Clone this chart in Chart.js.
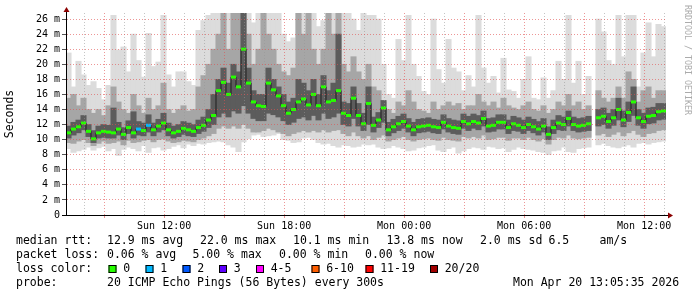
<!DOCTYPE html>
<html lang="en">
  <head>
    <meta charset="UTF-8" />
    <title>Smokeping latency</title>
    <script src="https://cdn.jsdelivr.net/npm/chart.js@4"></script>
    <style>
      html, body { margin: 0; padding: 0; background: #fff; }
      canvas { display: block; }
    </style>
  </head>
  <body>
    <canvas id="smoke" width="697" height="297"></canvas>
    <script>
      // 30 hour window, Sun 07:05:35 -> Mon 13:05:35, one value every 15 min
      const startHour = 7 + 5 / 60 + 35 / 3600;
      const stepHours = 0.25;

      // median rtt (ms) per step
      const median = [
        10.9, 11.4, 11.7, 12.2, 11.1, 10.1, 10.9, 11.1, 11.0, 10.9,
        11.4, 10.7, 11.6, 10.9, 11.4, 11.2, 11.9, 11.3, 11.8, 12.2,
        11.3, 10.9, 11.1, 11.5, 11.3, 11.1, 11.6, 11.9, 12.6, 13.2,
        16.5, 17.6, 16.0, 18.3, 17.0, 22.0, 17.5, 15.0, 14.5, 14.4,
        17.5, 16.6, 15.8, 14.5, 13.5, 14.0, 15.0, 15.4, 14.6, 16.0,
        14.5, 17.0, 15.0, 15.2, 16.5, 13.5, 13.2, 15.5, 13.2, 12.1,
        14.8, 11.9, 12.6, 14.2, 11.3, 11.7, 12.1, 12.4, 11.8, 11.3,
        11.7, 11.8, 11.9, 11.7, 11.6, 12.3, 11.8, 11.6, 11.5, 12.4,
        12.1, 12.4, 12.2, 12.8, 11.8, 11.9, 12.3, 12.3, 11.6, 12.1,
        11.9, 11.6, 12.0, 11.7, 11.4, 11.8, 10.7, 11.6, 12.2, 12.0,
        12.8, 12.0, 11.8, 11.9, 12.1, null, 12.9, 13.1, 12.4, 12.9,
        14.0, 12.6, 13.6, 15.0, 12.9, 12.4, 13.1, 13.2, 13.7, 13.8,
      ];
      // lost pings (of 20) per step
      const lossPings = [
        0, 0, 0, 0, 0, 0, 0, 0, 0, 0, 0, 0, 0, 0, 1, 0, 1, 0, 0, 0,
        0, 0, 0, 0, 0, 0, 0, 0, 0, 0, 0, 0, 0, 0, 0, 0, 0, 0, 0, 0,
        0, 0, 0, 0, 0, 0, 0, 0, 0, 0, 0, 0, 0, 0, 0, 0, 0, 0, 0, 0,
        0, 0, 0, 0, 0, 0, 0, 0, 0, 0, 0, 0, 0, 0, 0, 0, 0, 0, 0, 0,
        0, 0, 0, 0, 0, 0, 0, 0, 0, 0, 0, 0, 0, 0, 0, 0, 0, 0, 0, 0,
        0, 0, 0, 0, 0, 0, 0, 0, 0, 0, 0, 0, 0, 0, 0, 0, 0, 0, 0, 0,
      ];
      // smoke: outer (light), middle and inner (dark) ranges, ms
      const smokeHi1 = [
        21.5, 17.0, 20.4, 18.6, 17.2, 17.7, 16.8, 15.3, 17.2, 26.5,
        21.9, 22.3, 19.0, 24.0, 20.5, 18.3, 24.1, 19.7, 20.3, 26.5,
        18.6, 17.0, 19.0, 19.0, 17.7, 17.2, 24.5, 25.8, 26.5, 26.8,
        26.8, 26.8, 26.8, 26.8, 26.8, 26.8, 26.8, 25.5, 26.8, 26.8,
        26.8, 26.8, 26.8, 24.0, 23.0, 23.5, 26.8, 26.8, 26.8, 26.8,
        25.0, 25.8, 26.8, 26.8, 26.8, 26.8, 26.8, 26.0, 24.5, 26.8,
        26.5, 26.5, 26.0, 20.0, 16.0, 15.5, 23.3, 20.5, 26.5, 20.0,
        18.4, 16.4, 16.0, 26.0, 19.3, 17.5, 23.3, 19.5, 19.0, 16.5,
        18.5, 17.0, 26.5, 19.5, 17.5, 18.4, 16.2, 20.8, 16.6, 16.4,
        15.5, 18.0, 21.0, 15.5, 15.3, 18.2, 15.5, 16.5, 20.4, 18.0,
        26.5, 17.5, 20.4, 16.0, 18.4, null, 26.0, 24.3, 20.5, 20.0,
        26.5, 21.0, 26.5, 26.5, 17.0, 21.5, 25.5, 21.0, 25.3, 25.0,
      ];
      const smokeHi2 = [
        15.5, 16.0, 14.5, 15.5, 14.0, 13.5, 14.0, 13.2, 14.5, 17.0,
        15.0, 14.0, 13.5, 16.0, 14.5, 13.5, 15.5, 14.0, 14.5, 17.5,
        14.0, 13.5, 14.0, 14.5, 13.8, 14.0, 17.0, 18.5, 20.0, 22.0,
        24.0, 26.8, 22.0, 26.8, 26.8, 26.8, 24.0, 20.0, 22.0, 26.8,
        24.0, 22.0, 20.0, 19.0, 18.5, 19.5, 26.8, 24.0, 26.8, 22.0,
        20.0, 22.0, 26.8, 24.0, 26.8, 20.0, 19.0, 21.0, 19.0, 18.0,
        20.0, 17.0, 16.5, 15.0, 14.0, 13.5, 15.0, 14.5, 16.5, 15.0,
        14.0, 13.8, 13.5, 15.0, 14.0, 14.5, 15.0, 14.5, 14.8, 14.0,
        14.5, 14.5, 16.0, 15.0, 14.5, 15.0, 14.2, 15.5, 14.5, 14.2,
        14.0, 14.5, 15.0, 14.0, 13.8, 14.5, 13.5, 14.0, 15.0, 14.5,
        16.0, 14.5, 15.0, 14.0, 14.5, null, 16.5, 15.5, 15.0, 15.5,
        17.0, 15.5, 19.0, 18.0, 15.0, 16.5, 17.0, 15.5, 16.5, 16.5,
      ];
      const smokeHi3 = [
        11.8, 12.3, 12.6, 13.2, 12.0, 11.2, 11.8, 12.0, 11.9, 14.2,
        12.3, 11.6, 12.5, 13.7, 12.4, 12.2, 13.3, 12.2, 12.7, 13.5,
        12.2, 11.8, 12.0, 12.4, 12.2, 12.0, 12.6, 13.0, 14.0, 16.0,
        18.0, 19.5, 17.5, 20.0, 19.0, 26.8, 19.5, 16.5, 16.0, 16.0,
        19.5, 18.0, 17.0, 16.0, 15.0, 15.5, 18.0, 17.5, 16.5, 18.0,
        16.0, 18.5, 16.5, 17.5, 24.0, 15.0, 14.8, 17.0, 14.8, 13.5,
        17.0, 13.0, 13.6, 15.2, 12.3, 12.7, 13.1, 13.4, 12.8, 12.3,
        12.7, 12.8, 12.9, 12.7, 12.6, 13.3, 12.8, 12.6, 12.5, 13.4,
        13.1, 13.4, 13.2, 13.8, 12.8, 12.9, 13.3, 13.3, 12.6, 13.1,
        12.9, 12.6, 13.0, 12.7, 12.4, 12.8, 11.7, 12.6, 13.2, 13.0,
        13.8, 13.0, 12.8, 12.9, 13.1, null, 14.0, 14.2, 13.5, 14.0,
        15.5, 13.8, 15.0, 17.0, 14.0, 13.5, 14.2, 14.3, 14.8, 14.8,
      ];
      const smokeLo3 = [
        10.2, 10.6, 10.9, 11.3, 10.4, 9.6, 10.2, 10.3, 10.2, 10.2,
        10.6, 10.0, 10.8, 10.2, 10.6, 10.5, 11.0, 10.5, 11.0, 11.3,
        10.5, 10.2, 10.4, 10.7, 10.5, 10.4, 10.8, 11.1, 11.6, 12.0,
        13.0, 13.5, 13.0, 13.8, 13.5, 14.5, 13.5, 12.8, 12.5, 12.5,
        13.5, 13.3, 13.0, 12.5, 12.0, 12.3, 12.8, 13.0, 12.6, 13.2,
        12.6, 13.5, 12.8, 13.0, 13.5, 12.0, 11.8, 12.8, 11.8, 11.2,
        12.0, 11.0, 11.6, 12.3, 10.5, 10.9, 11.2, 11.5, 11.0, 10.5,
        10.9, 11.0, 11.1, 10.9, 10.8, 11.4, 11.0, 10.8, 10.7, 11.5,
        11.2, 11.5, 11.3, 11.8, 11.0, 11.1, 11.4, 11.4, 10.8, 11.2,
        11.1, 10.8, 11.2, 10.9, 10.6, 11.0, 10.0, 10.8, 11.3, 11.2,
        11.8, 11.2, 11.0, 11.1, 11.2, null, 11.8, 12.0, 11.5, 11.9,
        12.6, 11.7, 12.4, 13.2, 11.9, 11.5, 12.1, 12.2, 12.6, 12.7,
      ];
      const smokeLo2 = [
        9.6, 9.5, 9.8, 10.0, 9.6, 9.2, 9.5, 9.8, 9.5, 9.6,
        9.8, 9.3, 9.9, 9.6, 9.7, 9.9, 10.0, 9.7, 10.0, 10.1,
        9.8, 9.6, 9.7, 9.9, 9.8, 9.7, 10.0, 10.2, 10.5, 10.8,
        11.5, 11.8, 11.5, 11.8, 11.5, 12.0, 11.5, 11.0, 11.0, 11.2,
        11.5, 11.3, 11.0, 10.8, 10.5, 10.8, 11.0, 11.2, 11.0, 11.2,
        11.0, 11.3, 11.0, 11.2, 11.3, 10.8, 10.5, 11.0, 10.5, 10.2,
        10.5, 10.0, 10.3, 10.6, 9.8, 10.0, 10.2, 10.4, 10.0, 9.8,
        10.0, 10.1, 10.2, 10.0, 9.9, 10.3, 10.0, 9.9, 9.8, 10.4,
        10.2, 10.4, 10.2, 10.6, 10.0, 10.1, 10.3, 10.3, 9.9, 10.2,
        10.2, 10.0, 10.3, 10.0, 9.8, 10.1, 9.4, 10.0, 10.3, 10.2,
        10.6, 10.2, 10.1, 10.2, 10.3, null, 10.6, 10.8, 10.4, 10.7,
        11.0, 10.5, 10.9, 11.2, 10.7, 10.4, 10.8, 10.9, 11.2, 11.3,
      ];
      const smokeLo1 = [
        8.8, 8.3, 8.5, 8.7, 9.0, 8.6, 8.9, 9.1, 8.5, 8.8,
        7.9, 8.7, 9.0, 8.8, 8.5, 9.2, 8.3, 8.9, 9.0, 8.6,
        8.8, 9.1, 9.3, 8.9, 9.4, 9.2, 9.5, 9.4, 9.6, 9.7,
        9.8, 9.7, 9.3, 9.0, 8.4, 9.7, 10.1, 10.6, 10.7, 10.4,
        10.5, 10.6, 10.8, 10.0, 9.9, 9.6, 9.7, 10.2, 10.3, 10.0,
        9.6, 9.4, 9.5, 9.2, 9.0, 9.3, 9.2, 9.0, 9.1, 9.4,
        9.3, 9.4, 9.0, 8.8, 8.9, 9.2, 9.0, 8.8, 8.5, 8.6,
        8.9, 9.0, 9.2, 9.3, 8.6, 8.4, 8.8, 9.0, 8.2, 8.5,
        8.8, 9.0, 8.9, 8.7, 9.1, 9.0, 8.8, 8.9, 8.4, 8.7,
        9.0, 8.8, 8.7, 8.6, 8.4, 8.3, 8.0, 8.5, 8.6, 9.0,
        8.4, 8.3, 8.8, 8.9, 9.0, null, 9.3, 9.5, 9.2, 9.0,
        8.9, 9.1, 9.3, 9.0, 9.5, 9.6, 9.4, 9.6, 9.7, 9.8,
      ];

      const gridHours = [8, 9, 10, 11, 12, 13, 14, 15, 16, 17, 18, 19, 20, 21, 22,
        23, 24, 25, 26, 27, 28, 29, 30, 31, 32, 33, 34, 35, 36, 37];
      const labelHours = [12, 18, 24, 30, 36];
      const labelTexts = ["Sun 12:00", "Sun 18:00", "Mon 00:00", "Mon 06:00", "Mon 12:00"];
      const yTicks = [0, 1, 2, 3, 4, 5, 6, 7, 8, 9, 10, 11, 12, 13, 14, 15, 16, 17,
        18, 19, 20, 21, 22, 23, 24, 25, 26];

      const rttStats = ["12.9 ms avg", "22.0 ms max", "10.1 ms min", "13.8 ms now", "2.0 ms sd", "6.5", "am/s"];
      const lossStats = ["0.06 % avg", "5.00 % max", "0.00 % min", "0.00 % now"];
      const lossLabels = ["0", "1", "2", "3", "4-5", "6-10", "11-19", "20/20"];
      const lossColors = ["#26ff00", "#00b8ff", "#0059ff", "#5e00ff", "#ff00ff", "#ff5e00", "#ff0000", "#a10000"];
      const probeText = "20 ICMP Echo Pings (56 Bytes) every 300s";
      const stampText = "Mon Apr 20 13:05:35 2026";

      const xs = median.map((_, i) => startHour + (i + 0.5) * stepHours);

      function lossBucket(n) {
        if (n <= 3) return n;
        if (n <= 5) return 4;
        if (n <= 10) return 5;
        if (n <= 19) return 6;
        return 7;
      }

      function band(lo, hi, color, order) {
        return {
          type: "bar",
          data: xs.map((x, i) => ({ x: x, y: lo[i] == null ? null : [lo[i], hi[i]] })),
          backgroundColor: color,
          borderWidth: 0,
          barThickness: 5.4,
          grouped: false,
          order: order,
        };
      }

      const majorGrid = "rgba(225, 80, 80, 0.6)";
      const minorGrid = "rgba(150, 150, 150, 0.55)";
      const mono = "DejaVu Sans Mono";

      const decor = {
        id: "decor",
        afterDraw(chart) {
          const ctx = chart.ctx;
          const { left, right, top, bottom } = chart.chartArea;
          const ax = left + 0.5;
          const ay = bottom + 0.5;
          ctx.save();
          ctx.strokeStyle = "#000";
          ctx.lineWidth = 1;
          ctx.beginPath();
          ctx.moveTo(ax, bottom);
          ctx.lineTo(ax, top - 2);
          ctx.moveTo(left - 4, ay);
          ctx.lineTo(right + 3, ay);
          ctx.stroke();
          ctx.fillStyle = "#8b0000";
          ctx.beginPath();
          ctx.moveTo(ax - 3, top - 1);
          ctx.lineTo(ax + 3, top - 1);
          ctx.lineTo(ax, top - 6);
          ctx.closePath();
          ctx.fill();
          ctx.beginPath();
          ctx.moveTo(right + 2, ay - 3);
          ctx.lineTo(right + 2, ay + 3);
          ctx.lineTo(right + 7, ay);
          ctx.closePath();
          ctx.fill();

          ctx.fillStyle = "#000";
          ctx.textBaseline = "middle";
          ctx.textAlign = "left";
          ctx.font = "11.5px '" + mono + "'";
          ctx.fillText("median rtt:", 16, 241.5);
          [107, 200, 293, 386.5, 480, 548.5, 599.5].forEach((x, i) => ctx.fillText(rttStats[i], x, 241.5));
          ctx.fillText("packet loss:", 16, 255.5);
          [107, 192.5, 279, 365].forEach((x, i) => ctx.fillText(lossStats[i], x, 255.5));
          ctx.fillText("loss color:", 16, 269.5);
          [108.5, 145.5, 182.5, 219, 256, 311.5, 365.5, 430].forEach((x, i) => {
            ctx.fillStyle = lossColors[i];
            ctx.fillRect(x, 265, 8, 8);
            ctx.strokeStyle = "#000";
            ctx.strokeRect(x + 0.5, 265.5, 7, 7);
            ctx.fillStyle = "#000";
            ctx.fillText(lossLabels[i], x + 14.7, 269.5);
          });
          ctx.fillText("probe:", 16, 283.5);
          ctx.fillText(probeText, 107, 283.5);
          ctx.fillText(stampText, 513, 283.5);

          ctx.save();
          ctx.translate(10.5, 114);
          ctx.rotate(-Math.PI / 2);
          ctx.textAlign = "center";
          ctx.fillText("Seconds", 0, 0);
          ctx.restore();

          ctx.save();
          ctx.translate(687.5, 60);
          ctx.rotate(Math.PI / 2);
          ctx.textAlign = "center";
          ctx.fillStyle = "#ababab";
          ctx.font = "8.3px '" + mono + "'";
          ctx.fillText("RRDTOOL / TOBI OETIKER", 0, 0);
          ctx.restore();
          ctx.restore();
        },
      };

      new Chart(document.getElementById("smoke"), {
        type: "bar",
        data: {
          datasets: [
            {
              type: "line",
              data: xs.map((x, i) => ({ x: x, y: median[i] })),
              showLine: false,
              pointStyle: "line",
              pointRadius: 2.5,
              pointBorderWidth: 3,
              pointBorderColor: (c) => lossColors[lossBucket(lossPings[c.dataIndex] || 0)],
              order: 0,
            },
            {
              type: "line",
              data: xs.map((x, i) => ({ x: x, y: median[i] })),
              borderColor: "#1e1e1e",
              borderWidth: 1,
              stepped: "middle",
              pointRadius: 0,
              spanGaps: false,
              order: 1,
            },
            band(smokeLo3, smokeHi3, "#5c5c5c", 2),
            band(smokeLo2, smokeHi2, "#a6a6a6", 3),
            band(smokeLo1, smokeHi1, "#dcdcdc", 4),
          ],
        },
        options: {
          responsive: false,
          animation: false,
          devicePixelRatio: 1,
          events: [],
          layout: { padding: { left: 0, right: 31, top: 13, bottom: 0 } },
          plugins: { legend: { display: false }, tooltip: { enabled: false } },
          scales: {
            x: {
              type: "linear",
              min: startHour,
              max: startHour + 30,
              offset: false,
              afterBuildTicks: (s) => { s.ticks = gridHours.map((v) => ({ value: v })); },
              afterFit: (s) => { s.height = 82; },
              ticks: {
                autoSkip: false,
                maxRotation: 0,
                padding: 2,
                color: "#000",
                font: { family: mono, size: 10 },
                callback: (v) => {
                  const k = labelHours.indexOf(v);
                  return k < 0 ? "" : labelTexts[k];
                },
              },
              grid: {
                offset: false,
                z: 1,
                lineWidth: 1,
                color: (c) => (c.tick && c.tick.value % 3 === 0 ? majorGrid : minorGrid),
                tickLength: 3,
                tickColor: (c) => (c.tick && c.tick.value % 3 === 0 ? majorGrid : "rgba(0,0,0,0)"),
              },
              border: { color: "#000", width: 1, dash: [1, 2], z: 2 },
            },
            y: {
              min: 0,
              max: 26.8,
              afterBuildTicks: (s) => { s.ticks = yTicks.map((v) => ({ value: v })); },
              afterFit: (s) => { s.width = 66; },
              ticks: {
                padding: 2,
                color: "#000",
                font: { family: mono, size: 10 },
                callback: (v) => (v % 2 ? "" : v === 0 ? "0" : v + " m"),
              },
              grid: {
                z: 1,
                lineWidth: 1,
                color: (c) => (c.tick && c.tick.value % 2 === 0 ? majorGrid : minorGrid),
                tickLength: 4,
                tickColor: (c) => (c.tick && c.tick.value % 2 === 0 ? "#555" : "rgba(0,0,0,0)"),
              },
              border: { color: "#000", width: 1, dash: [1, 2], z: 2 },
            },
          },
        },
        plugins: [decor],
      });
    </script>
  </body>
</html>
